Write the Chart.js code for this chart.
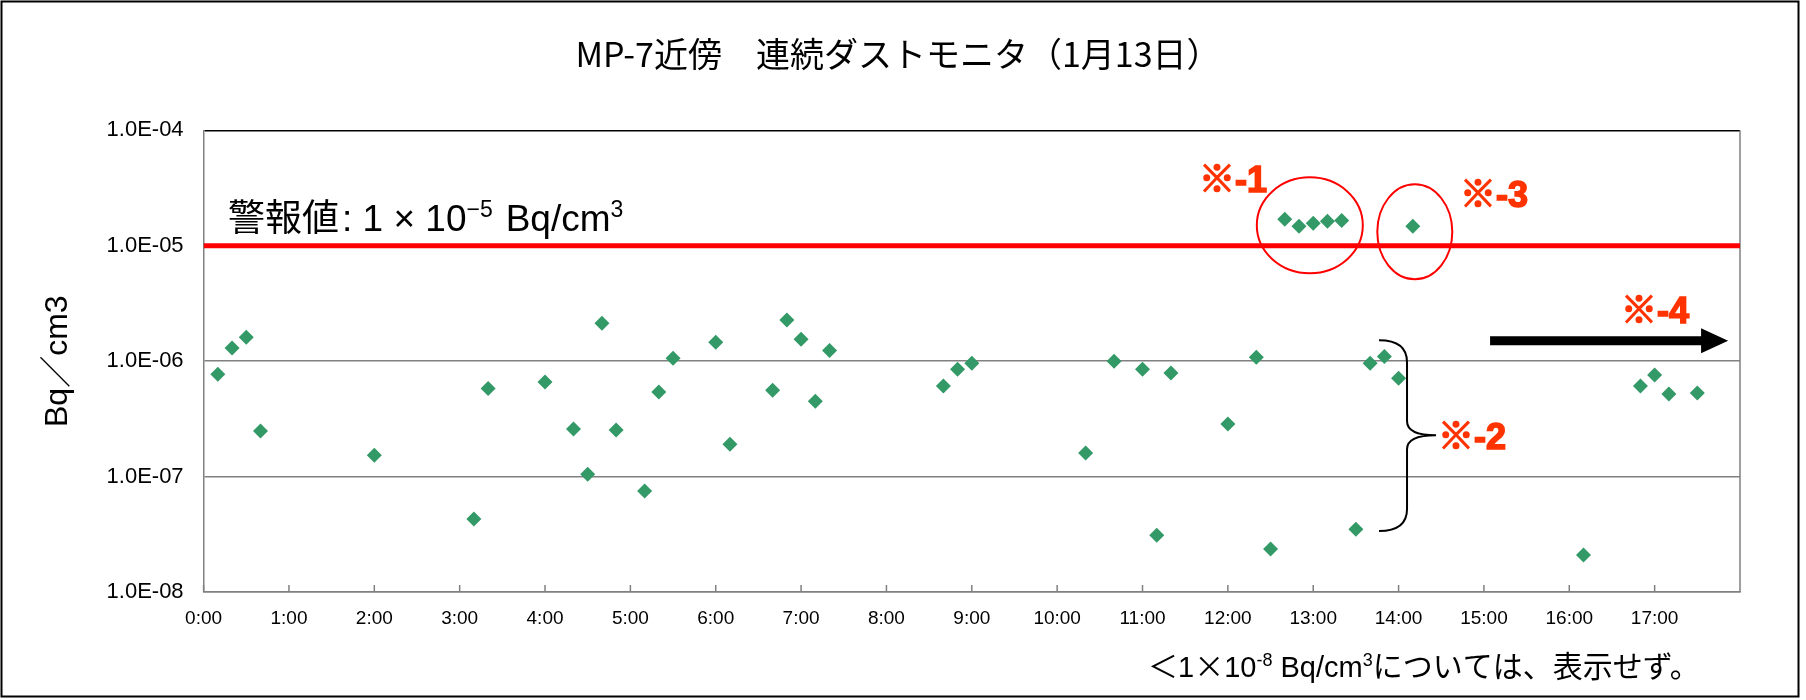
<!DOCTYPE html>
<html>
<head>
<meta charset="utf-8">
<script src="https://cdn.jsdelivr.net/npm/chart.js@4.4.0/dist/chart.umd.min.js"></script>
<style>
    html, body { margin: 0; padding: 0; background: #fff; }
    .chart-panel { width: 1806px; height: 700px; position: relative; }
</style>
</head>
<body>
<div class="chart-panel js-chart-panel"><canvas id="canv-chart"></canvas></div>
<script>
// sample times (1/13) and dust monitor readings, Bq/cm3
var times = ['0:10', '0:20', '0:30', '0:40', '2:00', '3:10', '3:20', '4:00', '4:20', '4:30',
    '4:40', '4:50', '5:10', '5:20', '5:30', '6:00', '6:10', '6:40', '6:50', '7:00',
    '7:10', '7:20', '8:40', '8:50', '9:00', '10:20', '10:40', '11:00', '11:10', '11:20',
    '12:00', '12:20', '12:30', '12:40', '12:50', '13:00', '13:10', '13:20', '13:30', '13:40',
    '13:50', '14:00', '14:10', '16:10', '16:50', '17:00', '17:10', '17:30'];
var values = [7.7e-7, 1.30e-6, 1.61e-6, 2.48e-7, 1.53e-7, 4.3e-8, 5.8e-7, 6.6e-7, 2.58e-7, 1.05e-7,
    2.13e-6, 2.53e-7, 7.5e-8, 5.4e-7, 1.06e-6, 1.46e-6, 1.91e-7, 5.6e-7, 2.27e-6, 1.55e-6,
    4.5e-7, 1.24e-6, 6.1e-7, 8.5e-7, 9.6e-7, 1.6e-7, 1.0e-6, 8.5e-7, 3.1e-8, 7.9e-7,
    2.85e-7, 1.08e-6, 2.36e-8, 1.70e-5, 1.48e-5, 1.57e-5, 1.63e-5, 1.66e-5, 3.5e-8, 9.6e-7,
    1.10e-6, 7.1e-7, 1.48e-5, 2.09e-8, 6.1e-7, 7.6e-7, 5.2e-7, 5.3e-7];
var xTickLabels = ['0:00', '1:00', '2:00', '3:00', '4:00', '5:00', '6:00', '7:00', '8:00', '9:00',
    '10:00', '11:00', '12:00', '13:00', '14:00', '15:00', '16:00', '17:00'];
var yTickValues = [1e-8, 1e-7, 1e-6, 1e-5, 1e-4];
var alarmLevel = 1e-5;
var alarmFrom = '0:00';
var alarmTo = '18:00';

var CJK = "'Noto Sans CJK JP'";
var LAT = "'Liberation Sans', Arial";

function hoursOf(t) {
    var p = t.split(':');
    return Number(p[0]) + Number(p[1]) / 60;
}

function drawRuns(ctx, x, y, runs) {
    for (var i = 0; i < runs.length; i++) {
        var r = runs[i];
        ctx.font = r.font;
        x += r.gap || 0;
        ctx.fillText(r.text, x, y + (r.dy || 0));
        x += ctx.measureText(r.text).width;
    }
    return x;
}

var decor = {
    id: 'decor',
    beforeDatasetsDraw: function(chart) {
        var ctx = chart.ctx;
        var area = chart.chartArea;
        var xs = chart.scales.x;
        ctx.save();
        ctx.strokeStyle = '#808080';
        ctx.lineWidth = 1.5;
        ctx.beginPath();
        ctx.moveTo(area.right, area.top);
        ctx.lineTo(area.right, area.bottom);
        for (var i = 0; i < xs.ticks.length; i++) {
            var px = xs.getPixelForValue(xs.ticks[i].value);
            ctx.moveTo(px, area.bottom);
            ctx.lineTo(px, area.bottom - 7);
        }
        ctx.stroke();
        ctx.restore();
    },
    afterDraw: function(chart) {
        var ctx = chart.ctx;
        var xs = chart.scales.x;
        var ys = chart.scales.y;
        function X(h) { return xs.getPixelForValue(h); }
        function Y(e) { return ys.getPixelForValue(Math.pow(10, e)); }

        ctx.save();
        // alarm level caption
        ctx.fillStyle = '#000';
        ctx.textBaseline = 'alphabetic';
        ctx.textAlign = 'left';
        drawRuns(ctx, X(0.286), Y(-4.875), [
            { text: '警報値', font: '37px ' + CJK },
            { text: ':', font: '37px ' + LAT, gap: 3 },
            { text: ' 1 × 10', font: '37px ' + LAT },
            { text: '−5', font: '23px ' + LAT, dy: -14 },
            { text: 'Bq/cm', font: '37px ' + LAT, gap: 13 },
            { text: '3', font: '23px ' + LAT, dy: -14 }
        ]);

        // circles around the exceedances
        ctx.strokeStyle = '#ff0000';
        ctx.lineWidth = 2;
        ctx.beginPath();
        ctx.ellipse(X(12.96), Y(-4.823), 53, 48, 0, 0, Math.PI * 2);
        ctx.stroke();
        ctx.beginPath();
        ctx.ellipse(X(14.19), Y(-4.879), 37.5, 47.5, 0, 0, Math.PI * 2);
        ctx.stroke();

        // note marks
        ctx.fillStyle = '#ff3300';
        ctx.strokeStyle = '#ff3300';
        ctx.lineWidth = 1.6;
        ctx.textBaseline = 'middle';
        ctx.font = 'bold 36px ' + LAT + ', ' + CJK;
        var notes = [['※-1', 11.663, -4.446], ['※-3', 14.72, -4.580], ['※-4', 16.607, -5.580], ['※-2', 14.463, -6.675]];
        for (var i = 0; i < notes.length; i++) {
            ctx.fillText(notes[i][0], X(notes[i][1]), Y(notes[i][2]));
            ctx.strokeText(notes[i][0], X(notes[i][1]), Y(notes[i][2]));
        }

        // arrow
        var ay = Y(-5.823);
        var ax0 = X(15.072), axh = X(17.544), axt = X(17.861);
        ctx.fillStyle = '#000';
        ctx.beginPath();
        ctx.moveTo(ax0, ay - 4.5);
        ctx.lineTo(axh, ay - 4.5);
        ctx.lineTo(axh, ay - 12.5);
        ctx.lineTo(axt, ay);
        ctx.lineTo(axh, ay + 12.5);
        ctx.lineTo(axh, ay + 4.5);
        ctx.lineTo(ax0, ay + 4.5);
        ctx.closePath();
        ctx.fill();

        // brace
        var lx = X(13.771), bx = X(14.099), tx = X(14.439);
        var ty = Y(-5.818), my = Y(-6.641), by = Y(-7.472);
        ctx.strokeStyle = '#000';
        ctx.lineWidth = 2;
        ctx.beginPath();
        ctx.moveTo(lx, ty);
        ctx.quadraticCurveTo(bx, ty, bx, ty + 22);
        ctx.lineTo(bx, my - 14);
        ctx.quadraticCurveTo(bx, my, tx, my);
        ctx.moveTo(tx, my);
        ctx.quadraticCurveTo(bx, my, bx, my + 14);
        ctx.lineTo(bx, by - 22);
        ctx.quadraticCurveTo(bx, by, lx, by);
        ctx.stroke();

        // footnote
        ctx.fillStyle = '#000';
        ctx.textBaseline = 'alphabetic';
        drawRuns(ctx, 1148, 677, [
            { text: '＜', font: '30px ' + CJK },
            { text: '1', font: '29px ' + LAT },
            { text: '×', font: '30px ' + CJK },
            { text: '10', font: '29px ' + LAT },
            { text: '-8', font: '18px ' + LAT, dy: -11 },
            { text: ' Bq/cm', font: '29px ' + LAT },
            { text: '3', font: '18px ' + LAT, dy: -11 },
            { text: 'については、表示せず。', font: '30px ' + CJK }
        ]);

        // outer frame
        ctx.strokeStyle = '#000';
        ctx.lineWidth = 2;
        ctx.strokeRect(1.5, 1.5, 1797, 695);
        ctx.restore();
    }
};

var points = [];
for (var i = 0; i < times.length; i++) {
    points.push({ x: hoursOf(times[i]), y: values[i] });
}

var ctx = document.getElementById('canv-chart');
var myChart = new Chart(ctx, {
    type: 'scatter',
    data: {
        datasets: [{
            label: 'dust',
            data: points,
            pointStyle: 'rectRot',
            pointRadius: 7.5,
            pointBackgroundColor: '#339966',
            pointBorderWidth: 0,
            showLine: false
        }, {
            label: 'alarm',
            type: 'line',
            data: [{ x: hoursOf(alarmFrom), y: alarmLevel }, { x: hoursOf(alarmTo), y: alarmLevel }],
            borderColor: '#ff0000',
            borderWidth: 5,
            pointRadius: 0,
            fill: false
        }]
    },
    options: {
        responsive: true,
        maintainAspectRatio: false,
        animation: false,
        devicePixelRatio: 1,
        layout: { padding: { left: 56, right: 66, top: 0, bottom: 0 } },
        plugins: {
            legend: { display: false },
            tooltip: { enabled: false },
            title: {
                display: true,
                text: 'MP-7近傍　連続ダストモニタ（1月13日）',
                color: '#000',
                font: { family: CJK, size: 34, weight: 'normal' },
                padding: { top: 34, bottom: 55.6 }
            }
        },
        scales: {
            x: {
                type: 'linear',
                min: 0,
                max: 18,
                afterFit: function(s) { s.height = 108; },
                ticks: {
                    stepSize: 1,
                    autoSkip: false,
                    maxRotation: 0,
                    padding: 15,
                    color: '#000',
                    font: { family: LAT, size: 19 },
                    callback: function(v) { return xTickLabels[v] || ''; }
                },
                grid: { drawOnChartArea: false, drawTicks: false },
                border: { color: '#808080', width: 1.5 }
            },
            y: {
                type: 'logarithmic',
                min: 1e-8,
                max: 1e-4,
                afterFit: function(s) { s.width = 147.6; },
                afterBuildTicks: function(s) {
                    s.ticks = yTickValues.map(function(v) { return { value: v }; });
                },
                ticks: {
                    padding: 20,
                    color: '#000',
                    font: { family: LAT, size: 22 },
                    callback: function(v) {
                        var e = Math.round(Math.log10(v));
                        return '1.0E-' + String(-e).padStart(2, '0');
                    }
                },
                title: {
                    display: true,
                    text: 'Bq／cm3',
                    color: '#000',
                    font: { family: LAT + ', ' + CJK, size: 32 },
                    padding: { top: -17, bottom: 0 }
                },
                grid: {
                    drawTicks: false,
                    lineWidth: 1.5,
                    color: function(c) {
                        return c.tick && c.tick.value === 1e-4 ? '#000' : '#808080';
                    }
                },
                border: { color: '#808080', width: 1.5 }
            }
        }
    },
    plugins: [decor]
});
</script>
</body>
</html>
